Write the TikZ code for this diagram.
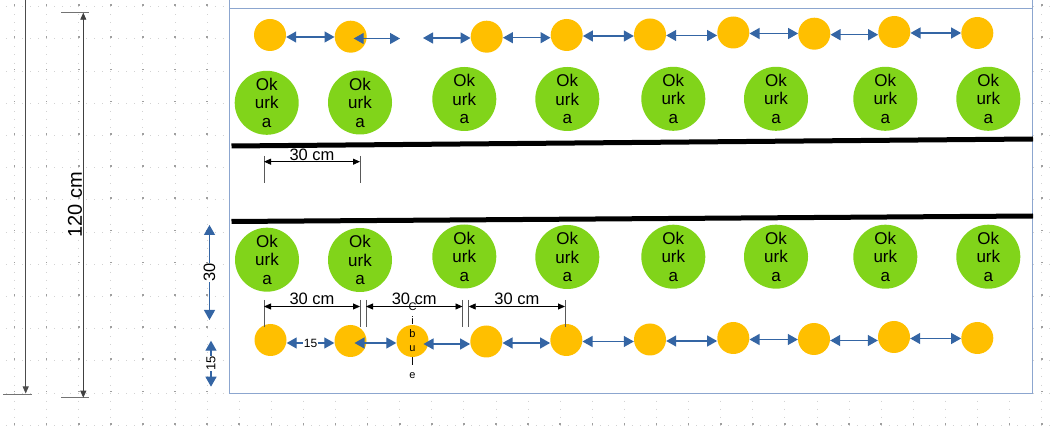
\documentclass[tikz,border=0pt]{standalone}
\usepackage{fontspec}
\setmainfont{Liberation Sans}
\usetikzlibrary{arrows.meta}
\definecolor{zlata}{HTML}{FFBF00}
\definecolor{limet}{HTML}{81D41A}
\definecolor{sipka}{HTML}{3465A4}
\definecolor{ramec}{HTML}{8CA6CF}
\tikzset{
  okurka/.style={circle, fill=limet, minimum size=64pt, inner sep=0pt, align=center,
    font=\fontsize{17}{18.5}\selectfont},
  cibulka/.style={circle, fill=zlata, minimum size=32pt, inner sep=0pt},
  modra/.style={draw=sipka, line width=1.3pt,
    {Triangle[width=11pt,length=10pt]}-{Triangle[width=11pt,length=10pt]}},
  kota/.style={draw=black, line width=0.8pt,
    {Triangle[width=6pt,length=7pt]}-{Triangle[width=6pt,length=7pt]}},
  pomocna/.style={draw=black!65, line width=0.8pt},
  kotatext/.style={anchor=base, inner sep=0pt, font=\fontsize{16.5}{19}\selectfont},
  zahon/.style={line width=5pt, black},
  teckyx/.style={gray!35, line width=1pt, dash pattern=on 1pt off 7.025pt},
  teckyy/.style={gray!35, line width=1pt, dash pattern=on 1pt off 7.05pt}
}
\begin{document}
\begin{tikzpicture}[x=1pt,y=-1pt]
	\useasboundingbox (0,0) rectangle (1052,427);
	
	% grid of the page
	\foreach \j in {0,...,13}
		\draw[teckyx] (-2.05, 6.7+32.2*\j) -- (1052, 6.7+32.2*\j);
	\foreach \i in {0,...,32}
		\draw[teckyy] (14.5+32.1*\i, -1.85) -- (14.5+32.1*\i, 427);
	\foreach \i in {0,...,32}{
		\foreach \j in {0,...,13}{
			\fill[gray!75] (13.7+32.1*\i, 5.9+32.2*\j) rectangle ++(1.6,-1.6);
		}
	}
	
	% frame
	\fill[white] (229,0) rectangle (1032.5,393.5);
	\draw[ramec, line width=1pt] (229,0) -- (229,393.5) -- (1032.5,393.5) -- (1032.5,0);
	\draw[ramec, line width=1pt] (229,9) -- (1032.5,9);
	
	% left dimensions
	\coordinate (lh) at (25.7,-2);
	\coordinate (ld) at (25.7,393.5);
	\draw[black!70, line width=0.8pt, -{Triangle[width=6pt,length=7pt]}] (lh) -- (ld);
	\draw[black!55, line width=0.8pt] (3,394.3) -- (31.7,394.3);
	
	\coordinate (k120a) at (83.3,12.7);
	\coordinate (k120b) at (83.3,397.7);
	\draw[black!55, line width=0.8pt] (61,12.7) -- (89.3,12.7);
	\draw[black!55, line width=0.8pt] (61,397.7) -- (89.3,397.7);
	\draw[kota, draw=black!75] (k120a) -- (k120b);
	\node[rotate=90, inner sep=0pt, font=\fontsize{20}{24}\selectfont] (t120) at (75,205) {120 cm};
	
	\coordinate (k30a) at (209.5,225);
	\coordinate (k30b) at (209.5,320);
	\draw[modra] (k30a) -- node[rotate=90, fill=white, inner sep=0.5pt,
		font=\fontsize{16.5}{19}\selectfont] (t30) {30} (k30b);
	\coordinate (k15a) at (211,340.7);
	\coordinate (k15b) at (211,386.7);
	\draw[modra] (k15a) -- node[rotate=90, fill=white, inner sep=0.5pt,
		font=\fontsize{13}{15}\selectfont] (t15) {15} (k15b);
	
	% beds
	\draw[zahon] (231.5,146) -- (1033,139);
	\draw[zahon] (231.5,221.5) -- (1033,216);
	
	% cucumbers
	\foreach \x/\y [count=\i] in {266.7/102.8, 360/102.5, 464.3/99, 567.3/99, 673.3/98.8, 776/98.8, 885.3/98.8, 988.3/98.8}
		\node[okurka] (okh\i) at (\x,\y) {Ok\\urk\\a};
	\foreach \x/\y [count=\i] in {267/259.7, 360/260, 464.3/256.5, 567.3/257, 673.3/256.7, 776/256.7, 885.3/256.7, 988.3/256.7}
		\node[okurka] (okd\i) at (\x,\y) {Ok\\urk\\a};
	
	% onions top
	\foreach \x/\y [count=\i] in {270/35, 350.7/36.7, 486.7/36.7, 566.7/35, 650/34.5, 733.3/32.5, 814.3/33.7, 894.3/32, 977.3/33}
		\node[cibulka] (cibh\i) at (\x,\y) {};
	\coordinate (volh0) at (353.7,38.5);
	\coordinate (volh1) at (400,38.5);
	\coordinate (volh2) at (423,38);
	\draw[modra] ([yshift=-2pt]cibh1.east) -- ([yshift=-2pt]cibh1.east -| cibh2.west);
	\draw[modra] (volh0) -- (volh1);
	\draw[modra] (volh2) -- (volh2 -| cibh3.west);
	\foreach \i [count=\j from 4] in {3,...,8}
		\draw[modra] ([yshift=-1pt]cibh\i.east) -- ([yshift=-1pt]cibh\i.east -| cibh\j.west);
	
	% onions bottom
	\foreach \x/\y [count=\i] in {270.5/340, 350.5/341, 412.5/341, 486.3/341.5, 566.3/340, 650/339.5, 733.3/338, 814/339, 894/337, 977.3/338}
		\node[cibulka] (cibd\i) at (\x,\y) {};
	\draw[modra] ([yshift=-3pt]cibd1.east) -- node[fill=white, inner sep=1pt,
		font=\fontsize{12}{14}\selectfont] (l15) {15} ([yshift=-3pt]cibd1.east -| cibd2.west);
	\draw[modra] ([xshift=4pt,yshift=-2pt]cibd2.center) -- ([yshift=-2pt]cibd2.center -| cibd3.west);
	\draw[modra] ([xshift=11pt,yshift=-3pt]cibd3.center) -- ([yshift=-3pt]cibd3.center -| cibd4.west);
	\foreach \i [count=\j from 5] in {4,...,9}
		\draw[modra] ([yshift=-1.5pt]cibd\i.east) -- ([yshift=-1.5pt]cibd\i.east -| cibd\j.west);
	\node[align=center, inner sep=0pt, font=\fontsize{11}{13.6}\selectfont] (cibtext) at (cibd3) {C\\i\\b\\u\\l\\e};
	
	% 30 cm top
	\coordinate (kh1) at (264,161.7);
	\coordinate (kh2) at (360,161.7);
	\draw[pomocna] (264,156) -- (264,183);
	\draw[pomocna] (360,156) -- (360,183);
	\draw[kota] (kh1) -- (kh2);
	\node[kotatext] (th) at (312,160.5) {30 cm};
	
	% 30 cm bottom
	\foreach \a/\b [count=\i] in {264/360, 366/462.5, 468.7/565}{
		\coordinate (dl\i) at (\a,306.5);
		\coordinate (dp\i) at (\b,306.5);
		\draw[pomocna] (\a,300) -- (\a,327.5);
		\draw[pomocna] (\b,300) -- (\b,327.5);
		\draw[kota] (dl\i) -- (dp\i);
		\node[kotatext] (dt\i) at ({(\a+\b)/2},305) {30 cm};
	}
\end{tikzpicture}
\end{document}
